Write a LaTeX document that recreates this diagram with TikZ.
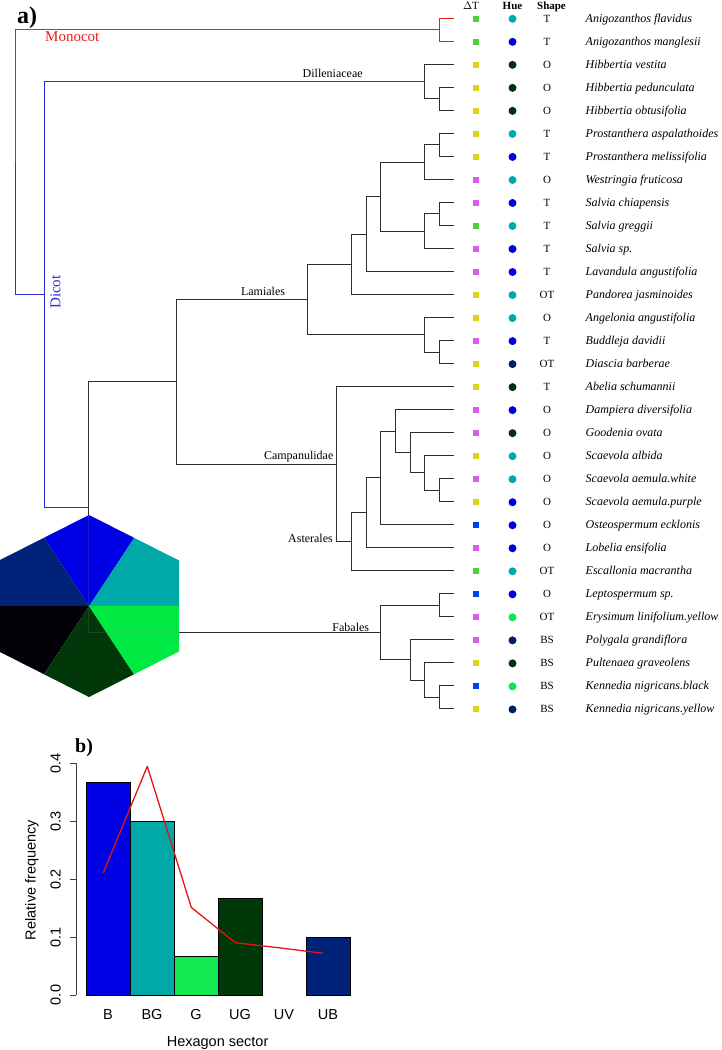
\documentclass[tikz,border=0pt]{standalone}
\usepackage{fontspec}
\setmainfont{Liberation Serif}
\setsansfont{Liberation Sans}
\definecolor{treegray}{RGB}{45,45,45}
\definecolor{treered}{RGB}{235,30,30}
\definecolor{treeblue}{RGB}{45,45,215}
\definecolor{cB}{RGB}{0,0,228}
\definecolor{cBG}{RGB}{0,168,168}
\definecolor{cG}{RGB}{0,232,66}
\definecolor{cGbar}{RGB}{20,232,80}
\definecolor{cUG}{RGB}{0,56,10}
\definecolor{cUV}{RGB}{2,2,8}
\definecolor{cUB}{RGB}{0,34,120}
\definecolor{sqG}{RGB}{80,210,50}
\definecolor{sqY}{RGB}{222,210,20}
\definecolor{sqM}{RGB}{210,95,240}
\definecolor{sqB}{RGB}{0,60,240}
\definecolor{hBG}{RGB}{0,170,170}
\definecolor{hB}{RGB}{0,0,220}
\definecolor{hUG}{RGB}{0,48,12}
\definecolor{hUB}{RGB}{0,30,100}
\definecolor{hG}{RGB}{10,230,80}
\definecolor{lineRed}{RGB}{228,20,20}
\begin{document}
\begin{tikzpicture}[x=1pt,y=-1pt,
  treeln/.style={line width=1pt, draw=treegray},
  redln/.style={line width=1.2pt, draw=treered},
  blueln/.style={line width=1.2pt, draw=treeblue},
  spname/.style={font=\fontsize{12}{14}\selectfont\itshape, anchor=base west, inner sep=0pt},
  shptxt/.style={font=\fontsize{11}{13}\selectfont, anchor=base, inner sep=0pt},
  hdr/.style={font=\fontsize{11}{13}\selectfont\bfseries, anchor=base, inner sep=0pt},
  cladelbl/.style={font=\fontsize{12}{14}\selectfont, anchor=base, inner sep=0pt},
  sqbox/.style={rectangle, minimum size=6pt, inner sep=0pt, draw=none},
  huedot/.style={circle, minimum size=8pt, inner sep=0pt, draw=none},
  axtxt/.style={font=\sffamily\fontsize{14.5}{16}\selectfont, inner sep=0pt},
  barln/.style={line width=0.5pt, draw=black},
]
\useasboundingbox (0,0) rectangle (721,1050);

% panel labels
\node[font=\fontsize{24}{26}\selectfont\bfseries, anchor=base west, inner sep=0pt] (lbla) at (17,23) {a)};
\node[font=\fontsize{20}{22}\selectfont\bfseries, anchor=base west, inner sep=0pt] (lblb) at (75,752) {b)};

% headers
\node[font=\fontsize{11}{13}\selectfont, anchor=base, inner sep=0pt] (hdT) at (471,9.5) {$\Delta$T};
\node[hdr] (hdHue) at (512.5,9.5) {Hue};
\node[hdr] (hdShape) at (551.5,9.5) {Shape};

% tips and tip data
\foreach \i/\sq/\hu/\sh/\nm in {
1/sqG/hBG/T/{Anigozanthos flavidus},
2/sqG/hB/T/{Anigozanthos manglesii},
3/sqY/hUG/O/{Hibbertia vestita},
4/sqY/hUG/O/{Hibbertia pedunculata},
5/sqY/hUG/O/{Hibbertia obtusifolia},
6/sqY/hBG/T/{Prostanthera aspalathoides},
7/sqY/hB/T/{Prostanthera melissifolia},
8/sqM/hBG/O/{Westringia fruticosa},
9/sqM/hB/T/{Salvia chiapensis},
10/sqG/hBG/T/{Salvia greggii},
11/sqM/hB/T/{Salvia sp.},
12/sqM/hB/T/{Lavandula angustifolia},
13/sqY/hBG/OT/{Pandorea jasminoides},
14/sqY/hBG/O/{Angelonia angustifolia},
15/sqM/hB/T/{Buddleja davidii},
16/sqY/hUB/OT/{Diascia barberae},
17/sqY/hUG/T/{Abelia schumannii},
18/sqM/hB/O/{Dampiera diversifolia},
19/sqM/hUG/O/{Goodenia ovata},
20/sqY/hBG/O/{Scaevola albida},
21/sqM/hBG/O/{Scaevola aemula.white},
22/sqY/hB/O/{Scaevola aemula.purple},
23/sqB/hB/O/{Osteospermum ecklonis},
24/sqM/hB/O/{Lobelia ensifolia},
25/sqG/hBG/OT/{Escallonia macrantha},
26/sqB/hB/O/{Leptospermum sp.},
27/sqM/hG/OT/{Erysimum linifolium.yellow},
28/sqM/hUB/BS/{Polygala grandiflora},
29/sqY/hUG/BS/{Pultenaea graveolens},
30/sqB/hG/BS/{Kennedia nigricans.black},
31/sqY/hUB/BS/{Kennedia nigricans.yellow}}{
  \pgfmathsetmacro\yy{18.3+23.02*(\i-1)}
  \coordinate (t\i) at (454,\yy);
  \node[sqbox, fill=\sq] (sq\i) at (476.2,\yy+0.4) {};
  \node[huedot, fill=\hu] (hue\i) at (512.5,\yy+0.5) {};
  \node[shptxt] (shp\i) at (547,\yy+4) {\sh};
  \node[spname] (nm\i) at (585.5,\yy+4) {\nm};
}

% internal nodes
\coordinate (root) at (15.7,162.13);
\coordinate (mono) at (439.35,29.81);
\coordinate (dicot) at (44.3,294.44);
\coordinate (dill) at (424.7,81.61);
\coordinate (n45) at (439.35,98.87);
\coordinate (eud) at (88.3,507.27);
\coordinate (lc) at (176,381.9);
\coordinate (lam) at (307.5,299.58);
\coordinate (n13c) at (351.45,264.33);
\coordinate (n12c) at (366.1,234.11);
\coordinate (nsal) at (380.75,196.71);
\coordinate (n678) at (424.7,162.18);
\coordinate (n67) at (439.35,144.91);
\coordinate (n911) at (424.7,231.24);
\coordinate (n910) at (439.35,213.97);
\coordinate (n1416) at (424.7,334.83);
\coordinate (n1516) at (439.35,352.09);
\coordinate (camp) at (336.8,464.22);
\coordinate (ast) at (351.45,541.83);
\coordinate (n1824) at (366.1,512.87);
\coordinate (n1823) at (380.75,477.98);
\coordinate (n1822) at (395.4,431.22);
\coordinate (n1922) at (410.05,452.80);
\coordinate (n2022) at (424.7,472.95);
\coordinate (n2122) at (439.35,490.21);
\coordinate (fab) at (380.75,632.65);
\coordinate (n2627) at (439.35,605.31);
\coordinate (n2831) at (410.05,659.98);
\coordinate (n2931) at (424.7,680.13);
\coordinate (n3031) at (439.35,697.39);

% coloured branches
\draw[redln] (root) |- (mono);
\draw[redln] (mono) |- (t1);
\draw[redln] (mono) |- (t2);
\draw[blueln] (root) |- (dicot);
\draw[blueln] (dicot) |- (dill);
\draw[blueln] (dicot) |- (eud);

% black branches
\foreach \p/\c in {dill/t3, dill/n45, n45/t4, n45/t5,
  eud/lc, eud/fab, lc/lam, lc/camp,
  lam/n13c, lam/n1416, n13c/n12c, n13c/t13, n12c/nsal, n12c/t12,
  nsal/n678, nsal/n911, n678/n67, n678/t8, n67/t6, n67/t7,
  n911/n910, n911/t11, n910/t9, n910/t10,
  n1416/t14, n1416/n1516, n1516/t15, n1516/t16,
  camp/t17, camp/ast, ast/n1824, ast/t25, n1824/n1823, n1824/t24,
  n1823/n1822, n1823/t23, n1822/t18, n1822/n1922, n1922/t19, n1922/n2022,
  n2022/t20, n2022/n2122, n2122/t21, n2122/t22,
  fab/n2627, fab/n2831, n2627/t26, n2627/t27, n2831/t28, n2831/n2931,
  n2931/t29, n2931/n3031, n3031/t30, n3031/t31}{
  \draw[treeln] (\p) |- (\c);
}

% clade labels
\node[font=\fontsize{15}{17}\selectfont, text=treered, anchor=base west, inner sep=0pt] (lmono) at (45,41.7) {Monocot};
\node[font=\fontsize{15}{17}\selectfont, text=treeblue, rotate=90, inner sep=0pt] (ldicot) at (55.5,292) {Dicot};
\node[cladelbl] (ldill) at (332.7,77) {Dilleniaceae};
\node[cladelbl] (llam) at (263,295) {Lamiales};
\node[cladelbl] (lcamp) at (298.7,459) {Campanulidae};
\node[cladelbl] (last) at (310.5,542) {Asterales};
\node[cladelbl] (lfab) at (350.8,631) {Fabales};

% hexagon
\coordinate (hc) at (89,606);
\coordinate (m0) at (179,606);
\coordinate (m60) at (134,537.75);
\coordinate (m120) at (44,537.75);
\coordinate (m180) at (-1,606);
\coordinate (m240) at (44,674.25);
\coordinate (m300) at (134,674.25);
\coordinate (v30) at (179,560.5);
\coordinate (v90) at (89,515);
\coordinate (v150) at (-1,560.5);
\coordinate (v210) at (-1,651.5);
\coordinate (v270) at (89,697);
\coordinate (v330) at (179,651.5);
\fill[cBG] (hc) -- (m0) -- (v30) -- (m60) -- cycle;
\fill[cB] (hc) -- (m60) -- (v90) -- (m120) -- cycle;
\fill[cUB] (hc) -- (m120) -- (v150) -- (m180) -- cycle;
\fill[cUV] (hc) -- (m180) -- (v210) -- (m240) -- cycle;
\fill[cUG] (hc) -- (m240) -- (v270) -- (m300) -- cycle;
\fill[cG] (hc) -- (m300) -- (v330) -- (m0) -- cycle;
% faint show-through of the branch behind the hexagon
\begin{scope}
\clip (v90) -- (v30) -- (v330) -- (v270) -- (v210) -- (v150) -- cycle;
\draw[line width=0.8pt, draw=gray, draw opacity=0.22] (eud) |- (fab);
\end{scope}

% bar chart
\filldraw[barln, fill=cB] (86,995) rectangle (130,782.7);
\filldraw[barln, fill=cBG] (130,995) rectangle (174,821.3);
\filldraw[barln, fill=cGbar] (174,995) rectangle (218,956.4);
\filldraw[barln, fill=cUG] (218,995) rectangle (262,898.5);
\filldraw[barln, fill=cUB] (306,995) rectangle (350,937.1);

\draw[line width=1.3pt, lineRed, line join=round] (103.3,872.8) -- (147.3,766.3) -- (191.3,907.4) -- (235.3,942.7) -- (279.3,947.8) -- (323.3,953.3);

\draw[line width=0.6pt, black!75] (76,995) -- (76,763.4);
\foreach \v/\lab in {0/0.0, 1/0.1, 2/0.2, 3/0.3, 4/0.4}{
  \pgfmathsetmacro\ty{995-57.9*\v}
  \draw[line width=0.6pt, black!75] (76,\ty) -- (69.5,\ty);
  \node[axtxt, rotate=90, anchor=base] (tk\v) at (60.7,\ty) {\lab};
}
\foreach \k/\lab in {0/B, 1/BG, 2/G, 3/UG, 4/UV, 5/UB}{
  \node[axtxt] (xl\k) at (108+44*\k,1014.5) {\lab};
}
\node[axtxt, anchor=base] (xtitle) at (217.6,1046.7) {Hexagon sector};
\node[axtxt, rotate=90, anchor=base] (ytitle) at (35.7,880) {Relative frequency};
\end{tikzpicture}
\end{document}
